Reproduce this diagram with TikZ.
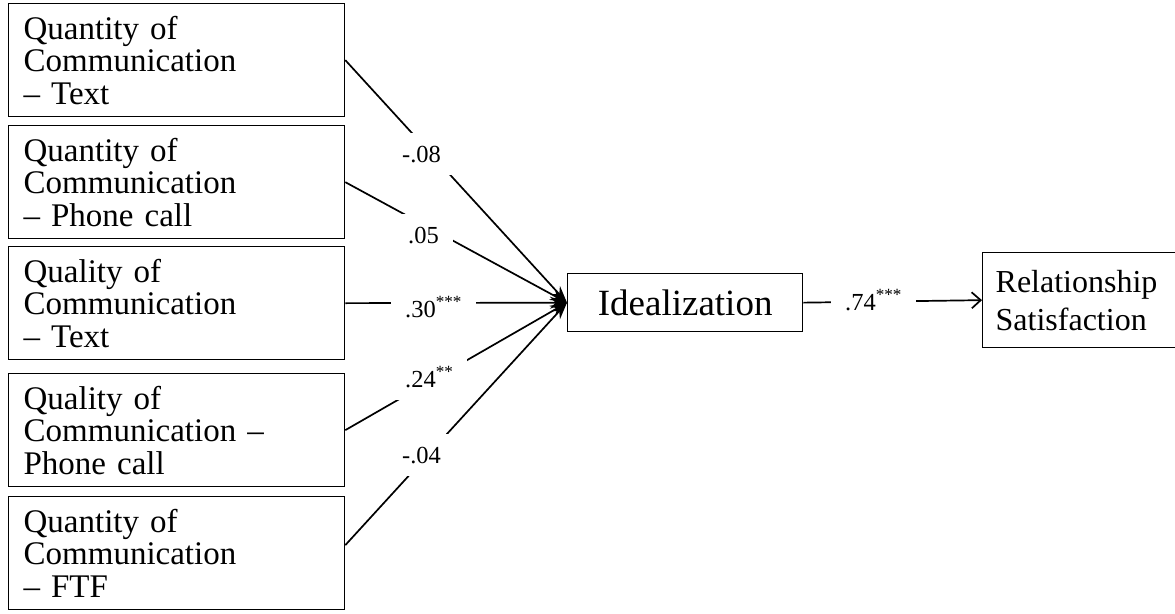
\documentclass[tikz,border=0pt]{standalone}
\usepackage{fontspec}
\setmainfont{Liberation Serif}
\usetikzlibrary{arrows.meta}
\begin{document}
\begin{tikzpicture}[x=1pt,y=-1pt,
  inbox/.style={draw=black, line width=1.3pt, anchor=north west,
    minimum width=336pt, minimum height=113pt, text width=306pt,
    inner xsep=15pt, inner ysep=0pt, align=left,
    font=\fontsize{33}{32.5}\selectfont},
  conn/.style={line width=1.7pt, -{Stealth[length=17pt,width=12pt]}},
  coef/.style={fill=white, anchor=base west, inner xsep=14pt, inner ysep=13pt,
    font=\fontsize{24.5}{24}\selectfont}]
\useasboundingbox (0,0) rectangle (1175,613);

\node[inbox] (b1) at (8,3)   {Quantity of\\Communication\\– Text};
\node[inbox] (b2) at (8,125) {Quantity of\\Communication\\– Phone call};
\node[inbox] (b3) at (8,246) {Quality of\\Communication\\– Text};
\node[inbox] (b4) at (8,373) {Quality of\\Communication –\\Phone call};
\node[inbox] (b5) at (8,496) {Quantity of\\Communication\\– FTF};

\node[draw=black, line width=1.3pt, anchor=north west, minimum width=235pt,
  minimum height=58pt, inner sep=0pt, font=\fontsize{37}{37}\selectfont]
  (ideal) at (567,273) {Idealization};

\node[draw=black, line width=1.3pt, anchor=north west, minimum width=202pt,
  minimum height=95pt, text width=176pt, inner xsep=13pt, inner ysep=0pt,
  align=left, font=\fontsize{32}{38}\selectfont]
  (rs) at (982,252) {Relationship\\Satisfaction};

\draw[conn] (b1.east) -- (ideal.west);
\draw[conn] (b2.east) -- (ideal.west);
\draw[conn] (b3.east) -- (ideal.west);
\draw[conn] (b4.east) -- (ideal.west);
\draw[conn] ([yshift=8pt]b5.east) -- (ideal.west);
\draw[line width=1.7pt, -{Straight Barb[length=9pt,width=16pt,line width=1.7pt]}]
  (ideal.east) -- (rs.west);

\node[coef] (c1) at (388,162) {-.08};
\node[coef] (c2) at (394,243) {.05};
\node[coef] (c3) at (391,317) {.30\textsuperscript{***}};
\node[coef] (c4) at (391,387) {.24\textsuperscript{**}};
\node[coef] (c5) at (388,463) {-.04};
\node[coef] (c6) at (831,310) {.74\textsuperscript{***}};
\end{tikzpicture}
\end{document}
